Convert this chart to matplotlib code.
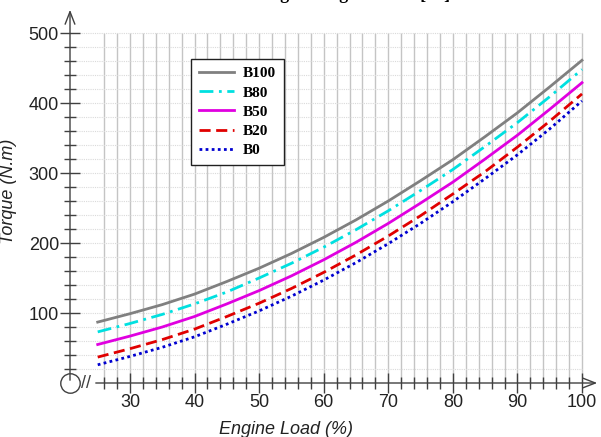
import matplotlib
matplotlib.use('Agg')
import matplotlib.pyplot as plt
import numpy as np

# data
load = [25, 30, 35, 40, 45, 50, 55, 60, 65, 70, 75, 80, 85, 90, 95, 100]
b100 = [87, 99, 112, 127, 145, 164, 185, 208, 233, 260, 289, 319, 352, 386, 423, 461]
b80 = [73, 85, 98, 113, 130, 150, 171, 194, 219, 246, 275, 305, 338, 372, 409, 448]
b50 = [55, 67, 80, 95, 113, 132, 153, 176, 201, 228, 257, 287, 320, 354, 391, 429]
b20 = [37, 49, 62, 77, 95, 114, 135, 158, 183, 210, 239, 270, 302, 337, 374, 413]
b0 = [26, 38, 51, 66, 84, 103, 124, 147, 172, 199, 228, 259, 292, 326, 363, 403]

x_major = [30, 40, 50, 60, 70, 80, 90, 100]
x_minor = list(range(26, 101, 2))
y_major = [100, 200, 300, 400, 500]
y_minor = list(range(20, 501, 20))

plt.rcParams['font.family'] = ['Liberation Sans', 'DejaVu Sans']

W, H = 601, 437
fig = plt.figure(figsize=(W / 100, H / 100), dpi=100)
x0, x1, y0, y1 = 70, 600, 383, 7
ax = fig.add_axes([x0 / W, 1 - y0 / H, (x1 - x0) / W, (y0 - y1) / H])
xpx = 6.457
ax.set_xlim(30 - (130 - x0) / xpx, 30 + (x1 - 130) / xpx)
ax.set_ylim(0, (y0 - y1) / 0.7)
for s in ax.spines.values():
    s.set_visible(False)

axc = '#404040'
# grid
ax.vlines(x_minor, 0, 500, color='#c4c4c4', lw=1, zorder=1)
ax.hlines(y_minor, ax.get_xlim()[0], 100, color='#dadada', lw=0.8,
          linestyles=(0, (1, 1)), zorder=1)

# curves
ax.plot(load, b100, color='#808080', lw=2, label='B100', zorder=3)
ax.plot(load, b80, color='#00e0e0', lw=2, ls=(0, (5, 2, 1, 2)), label='B80', zorder=3)
ax.plot(load, b50, color='#e000e0', lw=2, label='B50', zorder=3)
ax.plot(load, b20, color='#e00000', lw=2, ls=(0, (4, 2)), label='B20', zorder=3)
ax.plot(load, b0, color='#0000d0', lw=2, ls=(0, (1, 1.2)), label='B0', zorder=3)

# axes with arrows and break
ax.annotate('', xy=(0, 1), xytext=(0, 0), xycoords='axes fraction',
            arrowprops=dict(arrowstyle='->,head_length=0.9,head_width=0.35',
                            color=axc, lw=1), annotation_clip=False)
ax.annotate('', xy=(1, 0), xytext=((93 - x0) / (x1 - x0), 0), xycoords='axes fraction',
            arrowprops=dict(arrowstyle='->,head_length=0.9,head_width=0.35',
                            color=axc, lw=1), annotation_clip=False)
ax.plot([0], [0], marker='o', ms=14, mfc='none', mec=axc, mew=1,
        transform=ax.transAxes, clip_on=False, zorder=4)
ax.text((86 - x0) / (x1 - x0), 0, '//', transform=ax.transAxes, ha='center',
        va='center', fontsize=13, color=axc, clip_on=False)

ax.set_xticks(x_major)
ax.set_xticks(x_minor, minor=True)
ax.set_yticks(y_major)
ax.set_yticks(y_minor, minor=True)
ax.tick_params(which='major', direction='inout', length=14, width=1, color=axc,
               labelsize=13, labelcolor='#222222', pad=1)
ax.tick_params(which='minor', direction='inout', length=8, width=1, color=axc)

ax.set_xlabel('Engine Load (%)', fontsize=13, style='italic', color='#222222')
ax.set_ylabel('Torque (N.m)', fontsize=13, style='italic', color='#222222')
ax.xaxis.set_label_coords((286 - x0) / (x1 - x0), -(421 - y0) / (y0 - y1))
ax.yaxis.set_label_coords(-(70 - 17) / (x1 - x0), (y0 - 191) / (y0 - y1))

leg = ax.legend(loc='upper left', bbox_to_anchor=(191 / W, 1 - 59 / H),
                bbox_transform=fig.transFigure, borderaxespad=0, frameon=True,
                fancybox=False, edgecolor='#202020', framealpha=1,
                prop={'family': 'Liberation Serif', 'weight': 'bold', 'size': 11},
                handlelength=2.3, handletextpad=0.6, labelspacing=0.36,
                borderpad=0.5)
leg.get_frame().set_linewidth(1)
leg.set_zorder(5)

# title cut off at top of the picture, as in the source
fig.text(0.5, 1 + 1.5 / H, 'Effect of Blending on Engine Load [14]', ha='center',
         va='baseline', fontsize=13, fontweight='bold', family='Liberation Serif')

fig.savefig('out.png', dpi=100)
